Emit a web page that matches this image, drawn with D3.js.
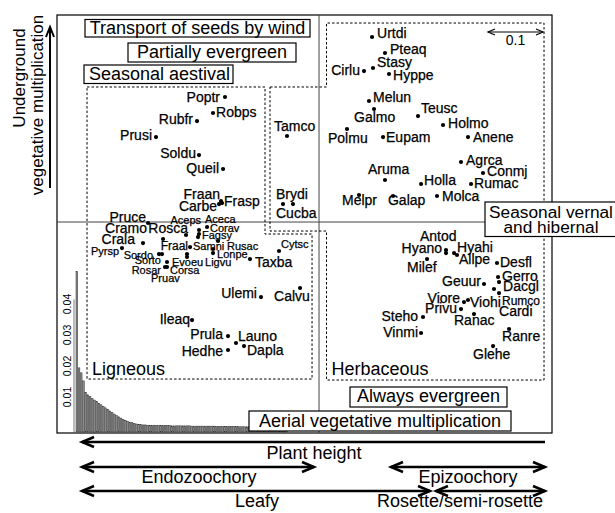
<!DOCTYPE html>
<html><head><meta charset="utf-8">
<script src="https://cdn.jsdelivr.net/npm/d3@7"></script>
<style>
body{margin:0;background:#fff}
text{font-family:"Liberation Sans",Arial,Helvetica,sans-serif;fill:#000}
</style>
</head><body>
<svg id="c" width="615" height="513"></svg>
<script>
// ---------------- DATA ----------------
const species = ["Poptr","Robps","Rubfr","Prusi","Soldu","Queil","Fraan","Carbe","Frasp","Tamco","Brydi","Cucba",
 "Pruce","Cramo","Rosca","Aceps","Aceca","Corav","Fagsy","Rusac","Crala","Pyrsp","Sordo","Sorto","Fraal","Samni",
 "Lonpe","Ligvu","Evoeu","Corsa","Rosar","Pruav","Taxba","Cytsc","Calvu","Ulemi","Ileaq","Prula","Launo","Dapla","Hedhe",
 "Urtdi","Pteaq","Stasy","Cirlu","Hyppe","Melun","Galmo","Teusc","Holmo","Polmu","Eupam","Anene","Agrca","Conmj","Rumac",
 "Aruma","Holla","Molca","Melpr","Galap",
 "Antod","Hyano","Hyahi","Allpe","Milef","Desfl","Gerro","Dacgl","Rumco","Cardi","Geuur","Viore","Viohi","Privu","Ranac",
 "Steho","Vinmi","Ranre","Glehe"];
const axis1 = [-0.1709,-0.1927,-0.2218,-0.2964,-0.2182,-0.1745,-0.1782,-0.1818,-0.1764,-0.0582,-0.0655,-0.0473,
 -0.3109,-0.2836,-0.2418,-0.2182,-0.2182,-0.2036,-0.2200,-0.1836,-0.3200,-0.3582,-0.2909,-0.2855,-0.2400,-0.2345,
 -0.1927,-0.1927,-0.2764,-0.2764,-0.2800,-0.2400,-0.1255,-0.0727,-0.0345,-0.1055,-0.2309,-0.1655,-0.1509,-0.1364,-0.1655,
 0.0964,0.1200,0.0982,0.0818,0.1273,0.0909,0.1000,0.1800,0.2255,0.0509,0.1164,0.2709,0.2582,0.2982,0.2764,
 0.1200,0.1855,0.2145,0.0727,0.1345,
 0.2309,0.2309,0.2455,0.2509,0.1964,0.3236,0.3255,0.3273,0.3182,0.3273,0.3000,0.2636,0.2709,0.2582,0.2818,
 0.1891,0.1855,0.3455,0.3164];
const axis2 = [0.2273,0.1982,0.1836,0.1545,0.1218,0.0964,0.0382,0.0327,0.0345,0.1564,0.0327,0.0327,
 -0.0018,-0.0309,-0.0236,-0.0218,-0.0145,-0.0091,-0.0273,-0.0345,-0.0382,-0.0473,-0.0582,-0.0582,-0.0582,-0.0455,
 -0.0491,-0.0564,-0.0727,-0.0818,-0.0818,-0.0636,-0.0673,-0.0527,-0.1200,-0.1364,-0.1782,-0.2073,-0.2200,-0.2255,-0.2327,
 0.3364,0.3073,0.2800,0.2745,0.2691,0.2200,0.2055,0.1927,0.1764,0.1691,0.1545,0.1545,0.1091,0.0891,0.0691,
 0.0764,0.0691,0.0473,0.0491,0.0473,
 -0.0564,-0.0509,-0.0564,-0.0600,-0.0673,-0.0745,-0.1000,-0.1091,-0.1218,-0.1291,-0.1127,-0.1455,-0.1418,-0.1582,-0.1673,
 -0.1727,-0.2018,-0.1945,-0.2255];

const eigenvalues = [0.0505,0.0194,0.0178,0.0152,0.0114,0.0107,0.0101,0.0095,0.0090,0.0085,
 0.0080,0.0075,0.0070,0.0065,0.0060,0.0055,0.0050,0.0045,0.0040,0.0036,
 0.0032,0.0028,0.0025,0.0022,0.0019,0.0017,0.0015,0.0013,0.0012,0.0011,
 0.0010,0.0010,0.0009,0.0009,0.0009,0.0009,0.0008,0.0008,0.0008,0.0008,
 0.0008,0.0008,0.0008,0.0007,0.0007,0.0007,0.0007,0.0007,0.0007,0.0007,
 0.0007,0.0007,0.0006,0.0006,0.0006,0.0006,0.0006,0.0006,0.0006,0.0006,
 0.0006,0.0006,0.0006,0.0005,0.0005,0.0005,0.0005,0.0005,0.0005,0.0005,
 0.0005,0.0005,0.0005,0.0005,0.0004,0.0004,0.0004,0.0004,0.0004,0.0004,
 0.0004,0.0003,0.0003,0.0003,0.0003,0.0003,0.0002,0.0002,0.0002,0.0002,
 0.0002,0.0001,0.0001,0.0001,0.0001,0.0001];
const eigTicks = [0.01,0.02,0.03,0.04];
const scaleBarValue = 0.1;

// group outlines (ordination units)
const ligneousOutline = [[-0.4218,0.2455],[-0.0982,0.2455],[-0.0982,-0.0218],[-0.0127,-0.0218],[-0.0127,-0.2855],[-0.4218,-0.2855]];
const herbaceousOutline = [[-0.0891,0.2455],[0.0136,0.2455],[0.0136,0.3618],[0.4091,0.3618],[0.4091,-0.2873],[0.0136,-0.2873],[0.0136,-0.0164],[-0.0891,-0.0164]];

// ---------------- LAYOUT (label offsets: dx, dy, anchor, size) ----------------
const labelLayout = {
 Poptr:[-5,5,"end"],Robps:[3,4],Rubfr:[-4,3,"end"],Prusi:[-4,3,"end"],Soldu:[-3,3,"end"],Queil:[-4,4,"end"],
 Fraan:[-1,-2,"end"],Carbe:[-2,7,"end"],Frasp:[2,3],Tamco:[-13,-5],Brydi:[-7,-5],Cucba:[-17,14],
 Pruce:[-2,-1,"end"],Cramo:[-16,-6,"end"],Rosca:[2,-2,"end"],Aceps:[2,-10,"end",11],Aceca:[6,-7,"start",11],
 Corav:[3,5,"start",11],Fagsy:[4,2,"start",11],Rusac:[9,9,"start",11],Crala:[-8,1,"end"],Pyrsp:[-3,7,"end",11],
 Sordo:[-6,5,"end",11],Sorto:[-1,10,"end",11],Fraal:[1,-4,"end",12],Samni:[3,3,"start",11],Lonpe:[4,9,"start",11],
 Ligvu:[-8,13,"start",11],Evoeu:[5,4,"start",11],Corsa:[3,7,"start",11],Rosar:[-4,7,"end",11],Pruav:[-36,25,"start",11],
 Taxba:[5,8],Cytsc:[2,-3,"start",11],Calvu:[-26,13],Ulemi:[-4,1,"end"],Ileaq:[-2,4,"end"],Prula:[-5,3,"end"],
 Launo:[2,-2],Dapla:[3,9],Hedhe:[-5,6,"end"],
 Urtdi:[5,1],Pteaq:[5,1],Stasy:[4,-1],Cirlu:[-4,4,"end"],Hyppe:[4,6],Melun:[4,1],Galmo:[-20,13],Teusc:[3,-3],
 Holmo:[5,3],Polmu:[-19,14],Eupam:[3,5],Anene:[5,5],Agrca:[5,3],Conmj:[4,3],Rumac:[3,4],Aruma:[-17,-6],Holla:[3,1],
 Molca:[5,5],Melpr:[-17,10],Galap:[-5,9],
 Antod:[-26,-12],Hyano:[-4,3,"end"],Hyahi:[3,-1],Allpe:[2,9],Milef:[-20,13],Desfl:[3,4],Gerro:[4,4],Dacgl:[4,9],
 Rumco:[8,16,"start",12],Cardi:[0,23],Geuur:[-3,2,"end"],Viore:[-4,1,"end"],Viohi:[2,7],Privu:[-4,4,"end"],
 Ranac:[-20,11],Steho:[-5,4,"end"],Vinmi:[-3,4,"end"],Ranre:[-7,12],Glehe:[-20,13]
};

// ---------------- DRAW ----------------
const W = 615, H = 513;
const svg = d3.select("#c");
svg.append("rect").attr("width", W).attr("height", H).attr("fill", "#fff");

const plot = {left: 57, top: 15, right: 552, bottom: 433};
const x = d3.scaleLinear().domain([-0.4764, 0.4236]).range([plot.left, plot.right]);
const y = d3.scaleLinear().domain([-0.3836, 0.3764]).range([plot.bottom, plot.top]);

// frame
svg.append("rect").attr("x", plot.left).attr("y", plot.top)
  .attr("width", plot.right - plot.left).attr("height", plot.bottom - plot.top)
  .attr("fill", "none").attr("stroke", "#000").attr("stroke-width", 1.2);

// eigenvalue barplot (inset)
const hb = d3.scaleBand().domain(d3.range(eigenvalues.length)).range([76, 76 + eigenvalues.length * 2.2]).paddingInner(0.25);
const hy = d3.scaleLinear().domain([0, 0.05]).range([428, 273]);
const hist = svg.append("g");
hist.selectAll("rect").data(eigenvalues).join("rect")
  .attr("x", (d, i) => hb(i)).attr("width", hb.bandwidth())
  .attr("y", d => hy(d)).attr("height", d => plot.bottom - 1 - hy(d))
  .attr("fill", "#8a8a8a").attr("stroke", "#333").attr("stroke-width", 0.5);
hist.append("line").attr("x1", 74).attr("x2", 74).attr("y1", hy(0.0415)).attr("y2", plot.bottom)
  .attr("stroke", "#555").attr("stroke-width", 0.8);
hist.selectAll("text.tk").data(eigTicks).join("text").attr("class", "tk")
  .attr("transform", d => `translate(71,${hy(d)}) rotate(-90)`)
  .attr("text-anchor", "middle").attr("font-size", 10.5).attr("fill", "#222")
  .text(d => d3.format(".2f")(d));

// centre axes
svg.append("line").attr("x1", plot.left).attr("x2", plot.right).attr("y1", y(0)).attr("y2", y(0))
  .attr("stroke", "#444").attr("stroke-width", 1);
svg.append("line").attr("x1", x(0)).attr("x2", x(0)).attr("y1", plot.top).attr("y2", plot.bottom)
  .attr("stroke", "#444").attr("stroke-width", 1);

// group outlines
const outline = d3.line().x(d => x(d[0])).y(d => y(d[1]));
[ligneousOutline, herbaceousOutline].forEach(o => {
  svg.append("path").attr("d", outline(o) + "Z").attr("fill", "none")
    .attr("stroke", "#000").attr("stroke-width", 1).attr("stroke-dasharray", "2.5,2");
});
svg.append("text").attr("x", x(-0.4218) + 5).attr("y", 375).attr("font-size", 18).text("Ligneous");
svg.append("text").attr("x", x(0.0136) + 5).attr("y", 375).attr("font-size", 18).text("Herbaceous");

// points + labels
const pts = species.map((s, i) => ({name: s, a: axis1[i], b: axis2[i]}));
svg.append("g").selectAll("circle").data(pts).join("circle")
  .attr("cx", d => x(d.a)).attr("cy", d => y(d.b)).attr("r", 2.1).attr("fill", "#000");
svg.append("g").selectAll("text").data(pts).join("text")
  .attr("x", d => x(d.a) + (labelLayout[d.name] || [4,4])[0])
  .attr("y", d => y(d.b) + (labelLayout[d.name] || [4,4])[1])
  .attr("text-anchor", d => (labelLayout[d.name] || [])[2] || "start")
  .attr("font-size", d => (labelLayout[d.name] || [])[3] || 14)
  .attr("stroke", "#000").attr("stroke-width", 0.25)
  .text(d => d.name);

// arrows
function arrowHead(g, tx, ty, dir, len, half, sw) {
  const [ux, uy] = dir, px = -uy, py = ux;
  g.append("path")
    .attr("d", `M${tx - ux*len + px*half},${ty - uy*len + py*half}L${tx},${ty}L${tx - ux*len - px*half},${ty - uy*len - py*half}`)
    .attr("fill", "none").attr("stroke", "#000").attr("stroke-width", sw).attr("stroke-linejoin", "miter");
}
function arrow(g, x1, y1, x2, y2, both, sw, len, half) {
  g.append("line").attr("x1", x1).attr("y1", y1).attr("x2", x2).attr("y2", y2)
    .attr("stroke", "#000").attr("stroke-width", sw);
  const L = Math.hypot(x2 - x1, y2 - y1), ux = (x2 - x1) / L, uy = (y2 - y1) / L;
  arrowHead(g, x2, y2, [ux, uy], len, half, sw);
  if (both) arrowHead(g, x1, y1, [-ux, -uy], len, half, sw);
}
// scale bar
const sb = svg.append("g");
const sbRight = 543, sbLeft = sbRight - (x(scaleBarValue) - x(0));
arrow(sb, sbLeft, 32, sbRight, 32, true, 1.2, 7, 3);
sb.append("text").attr("x", (sbLeft + sbRight) / 2).attr("y", 45).attr("text-anchor", "middle")
  .attr("font-size", 14).text(String(scaleBarValue));

// boxed annotations
const boxes = [
  {r:[85,19.5,225,17.5], cx:197.5, fs:18, lines:[["Transport of seeds by wind",34]]},
  {r:[128,43,168,19], cx:212, fs:18, lines:[["Partially evergreen",57.5]]},
  {r:[84,65,149,18.5], cx:159.5, fs:18, lines:[["Seasonal aestival",79.5]]},
  {r:[485,202,140,34.5], cx:551, fs:17.3, lines:[["Seasonal vernal",217.5],["and hibernal",233]]},
  {r:[350,387,157,20], cx:428.5, fs:18, lines:[["Always evergreen",402]]},
  {r:[249,411,262,20], cx:380, fs:18, lines:[["Aerial vegetative multiplication",427]]}
];
boxes.forEach(b => {
  svg.append("rect").attr("x", b.r[0]).attr("y", b.r[1]).attr("width", b.r[2]).attr("height", b.r[3])
    .attr("fill", "#fff").attr("stroke", "#000").attr("stroke-width", 1.2);
  b.lines.forEach(l => svg.append("text").attr("x", b.cx).attr("y", l[1]).attr("text-anchor", "middle")
    .attr("font-size", b.fs).text(l[0]));
});

// left axis title
const lt = svg.append("g");
lt.append("text").attr("transform", "translate(25,78) rotate(-90)").attr("text-anchor", "middle")
  .attr("font-size", 17).text("Underground");
lt.append("text").attr("transform", "translate(43,105) rotate(-90)").attr("text-anchor", "middle")
  .attr("font-size", 17).text("vegetative multiplication");
arrow(lt, 50, 188, 50, 27, false, 2, 10, 4);

// bottom gradients
const bt = svg.append("g");
arrow(bt, 545, 442, 82, 442, false, 2.5, 12, 5);
arrow(bt, 82, 467, 314, 467, true, 2.5, 12, 5);
arrow(bt, 391, 467, 545, 467, true, 2.5, 12, 5);
arrow(bt, 82, 491, 430, 491, true, 2.5, 12, 5);
arrow(bt, 436, 491, 545, 491, true, 2.5, 12, 5);
[["Plant height",314,459],["Endozoochory",199,483],["Epizoochory",468,483],["Leafy",257,507],["Rosette/semi-rosette",460,507]]
  .forEach(t => bt.append("text").attr("x", t[1]).attr("y", t[2]).attr("text-anchor", "middle").attr("font-size", 18).text(t[0]));
</script>
</body></html>
